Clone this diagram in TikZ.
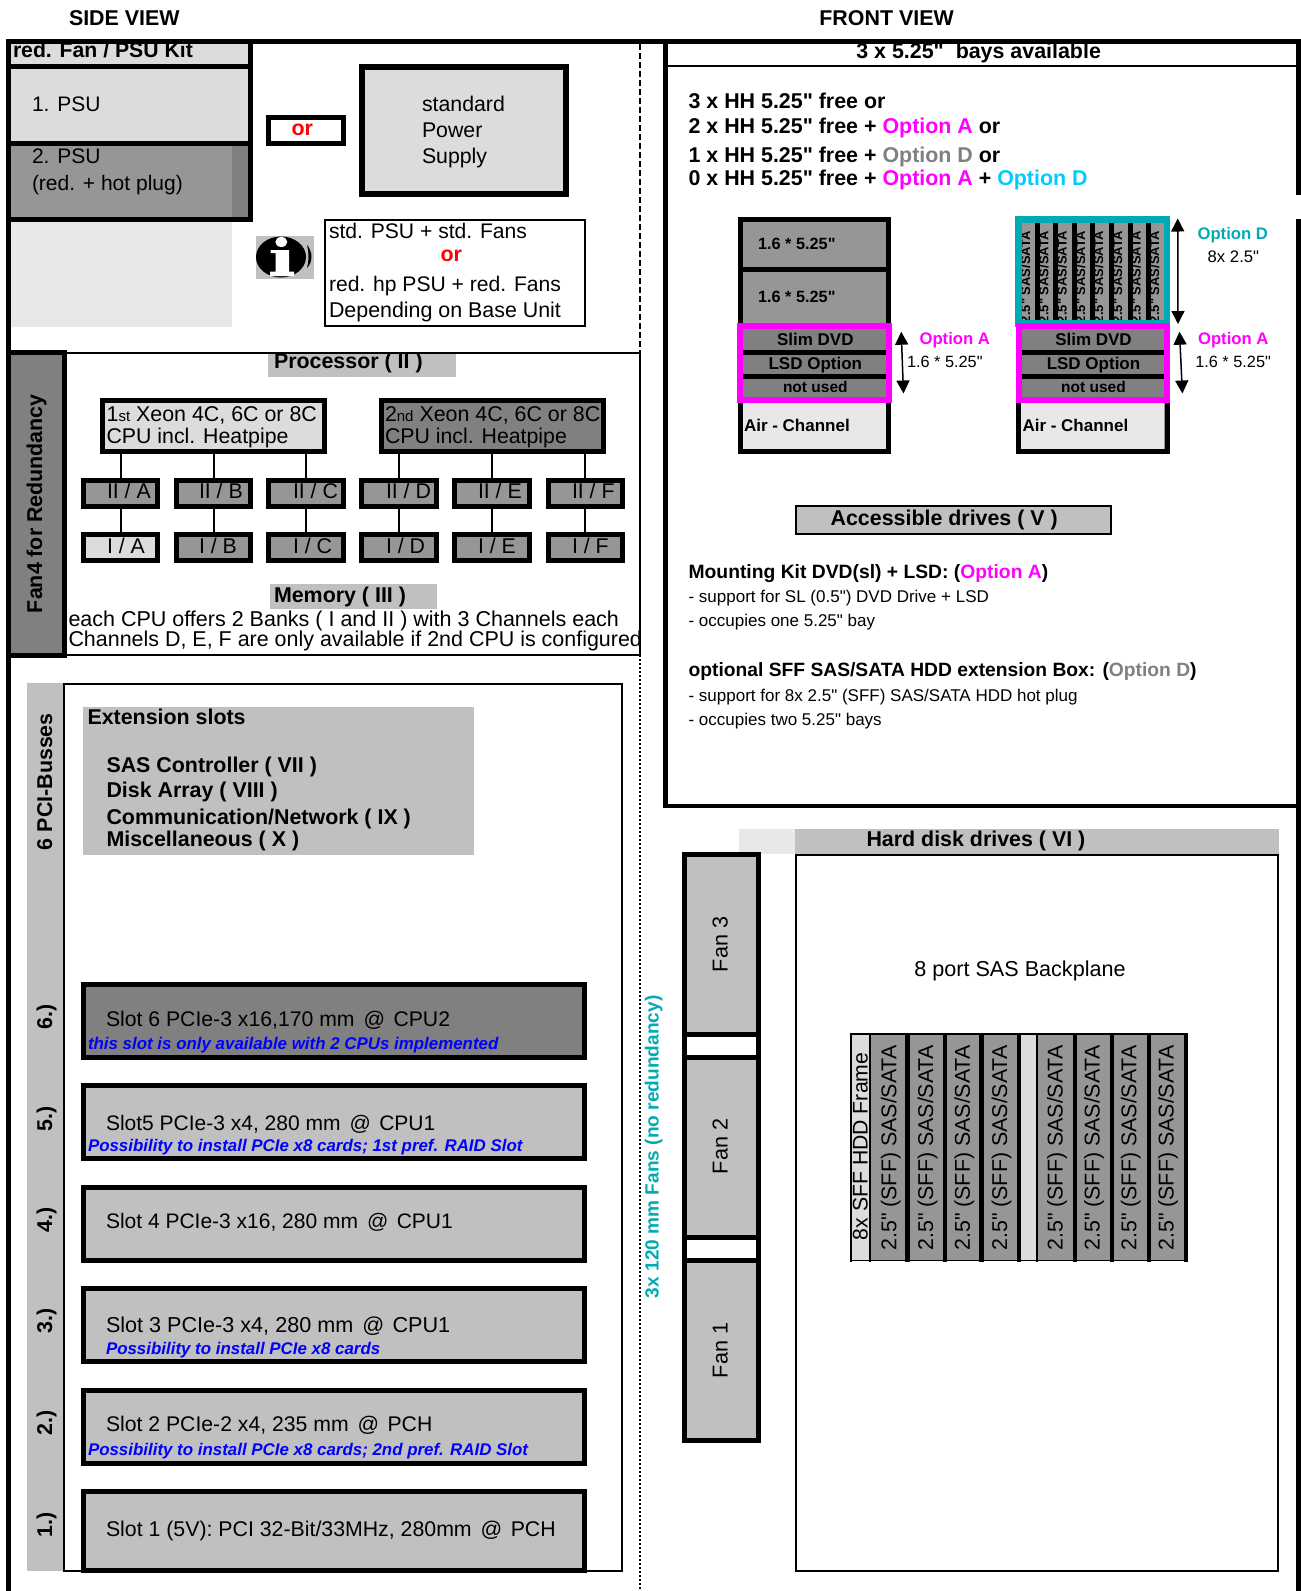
\documentclass[tikz,border=0pt]{standalone}
\usepackage{fontspec}
\newfontfamily\lsans{Liberation Sans}
\usetikzlibrary{arrows.meta}
\definecolor{lgray}{HTML}{DCDCDC}
\definecolor{pale}{HTML}{E8E8E8}
\definecolor{mgray}{HTML}{C0C0C0}
\definecolor{dgray}{HTML}{969696}
\definecolor{xgray}{HTML}{808080}
\definecolor{air}{HTML}{E8E8E8}
\definecolor{teal2}{HTML}{00ABB3}
\definecolor{magen}{HTML}{FF00FF}
\definecolor{cyan2}{HTML}{00CCFF}
\definecolor{blue2}{HTML}{0000FF}
\newcommand\fz[1]{\lsans\fontsize{#1}{#1}\selectfont}
\newcommand\atgap{\hspace{9pt}@\hspace{8.4pt}}
% \bx{name}{x1}{y1}{x2}{y2}{style}
\newcommand\bx[6]{\node (#1) [bxs,#6,minimum width={(#4-(#2))*1pt},minimum height={(#5-(#3))*1pt}] at ({(#2+#4)/2},{(#3+#5)/2}) {};}
\tikzset{
  bxs/.style={draw=black,inner sep=0pt,outer sep=0pt,rectangle},
  heavy/.style={line width=5pt},
  thin2/.style={line width=2pt},
  flat/.style={draw=none},
  txt/.style={inner sep=0pt,outer sep=0pt,anchor=base west},
  rtxt/.style={inner sep=0pt,outer sep=0pt,anchor=base west,rotate=90},
  ctxt/.style={inner sep=0pt,outer sep=0pt,anchor=base},
  reg/.style={font=\fz{21.3}},
  bold/.style={font=\fz{21.4}\bfseries},
  sbold/.style={font=\fz{17}\bfseries},
  wire/.style={line width=2pt},
  frameline/.style={line width=5pt},
  dimarrow/.style={line width=1.5pt,{Triangle[length=13pt,width=13pt]}-{Triangle[length=13pt,width=13pt]}},
  note/.style={font=\fz{16.9}\bfseries\itshape,text=blue2},
}
\begin{document}
\begin{tikzpicture}[x=1pt,y=-1pt]
\useasboundingbox (0,0) rectangle (1301,1591);
% ---------- titles
\node (sideview) [txt,bold] at (69,25) {SIDE VIEW};
\node (frontview) [txt,bold] at (819.4,25) {FRONT VIEW};
% ---------- PSU kit
\bx{kithead}{8.5}{41.7}{250.5}{66.7}{heavy,fill=lgray}
\bx{psuone}{8.5}{66.7}{250.5}{143.3}{heavy,fill=lgray}
\bx{psutwo}{8.5}{143.3}{250.5}{219.5}{heavy,fill=dgray}
\bx{psusliver}{232}{145.8}{248}{217}{flat,fill=xgray}
\bx{palerect}{8}{222}{232}{327}{flat,fill=pale}
\node (kittxt) [txt,font=\fz{21.2}\bfseries] at (13,57.5) {red. Fan / PSU Kit};
\node (psuonetxt) [txt,font=\fz{21}] at (32,111.7) {1. PSU};
\node (psutwotxt) [txt,font=\fz{21}] at (32,163) {2. PSU};
\node (psutwotxtb) [txt,font=\fz{21}] at (32,190) {(red. + hot plug)};
\bx{orbox}{268.5}{117.5}{343.5}{143.5}{heavy,fill=white}
\node (ortxt) [txt,bold,text=red] at (291.6,135.7) {or};
\bx{stdbox}{362}{67}{566}{194}{line width=5.5pt,fill=lgray}
\node (stda) [txt,reg] at (422,111.7) {standard};
\node (stdb) [txt,reg] at (422,137.7) {Power};
\node (stdc) [txt,reg] at (422,163.3) {Supply};
% info icon
\bx{icongray}{256}{236}{314}{279}{flat,fill=mgray}
\fill[black] (281,257) ellipse [x radius=25,y radius=20.5];
\fill[white] (281.3,242) ellipse [x radius=6,y radius=5];
\fill[white] (270.5,250) -- (289,250) -- (289,271.5) -- (294,271.5) -- (294,276) -- (270,276) -- (270,271.5) -- (275.5,271.5) -- (275.5,253) -- (270.5,253) -- cycle;
\fill[black] (307,245) .. controls (313,252) and (313,262) .. (307,268) .. controls (309,260) and (309,252) .. (307,245) -- cycle;
\bx{infobox}{324.5}{220}{585}{326}{thin2,fill=white}
\node (infoa) [txt,font=\fz{21.1}] at (329,238.7) {std. PSU + std. Fans};
\node (infob) [txt,bold,text=red] at (440.5,261.7) {or};
\node (infoc) [txt,font=\fz{21.1}] at (329,291.7) {red. hp PSU + red. Fans};
\node (infod) [txt,font=\fz{21.4}] at (329,317.7) {Depending on Base Unit};
% ---------- processor section
\bx{prochead}{268}{354}{455.6}{376.7}{flat,fill=mgray}
\node (proctxt) [txt,bold] at (274,368.3) {Processor ( II )};
\draw[wire] (64,353) -- (640,353);
\draw[wire] (64,655) -- (640,655);
\draw[wire] (640,353) -- (640,655);
\draw[line width=2pt,dash pattern=on 6pt off 3pt] (640,44) -- (640,353);
\draw[line width=2pt,dash pattern=on 2pt off 2pt] (640,655) -- (640,1591);
\bx{fanfour}{8.5}{352.5}{64.5}{655.4}{heavy,fill=xgray}
\node (fanfourtxt) [rtxt,bold] at (42,613) {Fan4 for Redundancy};
\bx{cpuone}{102}{400.8}{324.5}{451.5}{heavy,fill=lgray}
\bx{cputwo}{381}{400.8}{603}{451.5}{heavy,fill=xgray}
\node (cpuonea) [txt,font=\fz{21.4}] at (106.6,421.7) {1{\fz{15}st} Xeon 4C, 6C or 8C};
\node (cpuoneb) [txt,reg] at (106.6,443.3) {CPU incl. Heatpipe};
\node (cputwoa) [txt,font=\fz{21.4}] at (385,421.7) {2{\fz{15}nd} Xeon 4C, 6C or 8C};
\node (cputwob) [txt,reg] at (385,443.3) {CPU incl. Heatpipe};
\foreach \n/\xa/\xb/\tx/\fc in {A/83.5/157.5/107/lgray,B/176.5/250.5/199/dgray,C/268.5/343.5/293/dgray,D/361.5/436.5/386/dgray,E/454.5/529/478/dgray,F/548/622/572/dgray}{
  \bx{memII\n}{\xa}{480.7}{\xb}{506.3}{heavy,fill=dgray}
  \bx{memI\n}{\xa}{534.7}{\xb}{560.3}{heavy,fill=\fc}
  \node (txII\n) [txt,reg] at (\tx,498) {II / \n};
  \node (txI\n) [txt,reg] at (\tx,553) {I / \n};
  \draw[wire] (memII\n.south) -- (memI\n.north);
}
\draw[wire] (memIIA.north) -- (memIIA.north |- cpuone.south);
\draw[wire] (memIIB.north) -- (memIIB.north |- cpuone.south);
\draw[wire] (memIIC.north) -- (memIIC.north |- cpuone.south);
\draw[wire] (memIID.north) -- (memIID.north |- cputwo.south);
\draw[wire] (memIIE.north) -- (memIIE.north |- cputwo.south);
\draw[wire] (memIIF.north) -- (memIIF.north |- cputwo.south);
\bx{memhead}{269.7}{584}{437.3}{608.7}{flat,fill=mgray}
\node (memtxt) [txt,bold] at (274,602.3) {Memory ( III )};
\node (memlinea) [txt,font=\fz{21.5}] at (68.5,626.7) {each CPU offers 2 Banks ( I and II ) with 3 Channels each};
\node (memlineb) [txt,font=\fz{21.45}] at (68.5,646.7) {Channels D, E, F are only available if 2nd CPU is configured};
% ---------- slots
\bx{strip}{27.4}{683}{63}{1571}{flat,fill=mgray}
\bx{panel}{64}{684}{622}{1571}{thin2}
\node (busses) [rtxt,bold] at (52,850) {6 PCI-Busses};
\bx{exthead}{83}{707.3}{474}{854.7}{flat,fill=mgray}
\node (exta) [txt,bold] at (87.5,724.3) {Extension slots};
\node (extb) [txt,bold] at (106.5,772.3) {SAS Controller ( VII )};
\node (extc) [txt,bold] at (106.5,797.7) {Disk Array ( VIII )};
\node (extd) [txt,bold] at (106.5,824) {Communication/Network ( IX )};
\node (exte) [txt,bold] at (106.5,846) {Miscellaneous ( X )};
\bx{slotsix}{83.3}{984.4}{584.5}{1057.6}{heavy,fill=xgray}
\bx{slotfive}{83.3}{1085.4}{584.5}{1158.6}{heavy,fill=mgray}
\bx{slotfour}{83.3}{1187.4}{584.5}{1260.3}{heavy,fill=mgray}
\bx{slotthree}{83.3}{1288.4}{584.5}{1361.6}{heavy,fill=mgray}
\bx{slottwo}{83.3}{1390.4}{584.5}{1463.6}{heavy,fill=mgray}
\bx{slotone}{83.3}{1491.4}{584.5}{1570.3}{heavy,fill=mgray}
\node (snsix) [rtxt,bold] at (52,1029) {6.)};
\node (snfive) [rtxt,bold] at (52,1131.5) {5.)};
\node (snfour) [rtxt,bold] at (52,1232.5) {4.)};
\node (snthree) [rtxt,bold] at (52,1333.5) {3.)};
\node (sntwo) [rtxt,bold] at (52,1435) {2.)};
\node (snone) [rtxt,bold] at (52,1537.5) {1.)};
\node (stsix) [txt,font=\fz{21.2}] at (106,1026) {Slot 6 PCIe-3 x16,170 mm\atgap CPU2};
\node (ntsix) [txt,note] at (88,1049.3) {this slot is only available with 2 CPUs implemented};
\node (stfive) [txt,font=\fz{21}] at (106,1130) {Slot5 PCIe-3 x4, 280 mm\atgap CPU1};
\node (ntfive) [txt,note] at (88,1151.3) {Possibility to install PCIe x8 cards; 1st pref. RAID Slot};
\node (stfour) [txt,font=\fz{21}] at (106,1228.7) {Slot 4 PCIe-3 x16, 280 mm\atgap CPU1};
\node (stthree) [txt,font=\fz{21.6}] at (106,1332.7) {Slot 3 PCIe-3 x4, 280 mm\atgap CPU1};
\node (ntthree) [txt,note] at (106,1354.3) {Possibility to install PCIe x8 cards};
\node (sttwo) [txt,font=\fz{21.2}] at (106,1431.7) {Slot 2 PCIe-2 x4, 235 mm\atgap PCH};
\node (nttwo) [txt,note] at (88,1455.3) {Possibility to install PCIe x8 cards; 2nd pref. RAID Slot};
\node (stone) [txt,reg] at (106,1536.7) {Slot 1 (5V): PCI 32-Bit/33MHz, 280mm\atgap PCH};
% ---------- front view, upper box
\draw[wire] (668,66) -- (1296,66);
\node (bays) [txt,bold] at (856.4,58.3) {3 x 5.25" \ bays available};
\node (fa) [txt,font=\fz{21.4}\bfseries] at (688.6,108.5) {3 x HH 5.25" free or};
\node (fb) [txt,font=\fz{21.4}\bfseries] at (688.6,133.3) {2 x HH 5.25" free + \textcolor{magen}{Option A} or};
\node (fc) [txt,font=\fz{21.4}\bfseries] at (688.6,162.7) {1 x HH 5.25" free + \textcolor{xgray}{Option D} or};
\node (fd) [txt,font=\fz{21.4}\bfseries] at (688.6,185) {0 x HH 5.25" free + \textcolor{magen}{Option A} + \textcolor{cyan2}{Option D}};
% left stack
\bx{lstack}{740.5}{219.3}{888.5}{451.5}{heavy,fill=dgray}
\draw[line width=5pt] (lstack.west |- 0,269.5) -- (lstack.east |- 0,269.5);
\bx{lair}{743}{403}{886}{448.8}{flat,fill=air}
\bx{lrows}{743.4}{329}{885.9}{397.3}{flat,fill=xgray}
\bx{lbara}{743.4}{350}{885.9}{355}{flat,fill=black}
\bx{lbarb}{743.4}{374}{885.9}{379}{flat,fill=black}
\bx{lmag}{740}{326.3}{889}{400.3}{line width=6pt,draw=magen}
\node (lba) [txt,font=\fz{16.3}\bfseries] at (758,249) {1.6 * 5.25"};
\node (lbb) [txt,font=\fz{16.3}\bfseries] at (758,302.7) {1.6 * 5.25"};
\node (lslim) [ctxt,sbold] at (815.3,345) {Slim DVD};
\node (llsd) [ctxt,sbold] at (815.3,369) {LSD Option};
\node (lnot) [ctxt,font=\fz{15.5}\bfseries] at (815.3,392) {not used};
\node (lairt) [txt,sbold] at (744,431) {Air - Channel};
\coordinate (laT) at (901.2,331.7);
\coordinate (laB) at (903.5,393.5);
\draw[dimarrow] (laT) -- (laB);
\node (loa) [txt,font=\fz{16.7}\bfseries,text=magen] at (919.5,344.3) {Option A};
\node (lob) [txt,font=\fz{16.3}] at (907,367.7) {1.6 * 5.25"};
% right stack
\bx{rstack}{1018.8}{219.3}{1167}{451.5}{heavy,fill=dgray}
\bx{rair}{1021}{403}{1164}{448.8}{flat,fill=air}
\foreach \bxa/\bxb in {1035/1040,1053/1058,1072/1077,1090/1095,1109/1114,1128/1133,1146/1151}{
  \bx{rbar\bxa}{\bxa}{222.7}{\bxb}{324}{flat,fill=black}
}
\foreach \bl in {1030,1048.3,1066.5,1085,1103,1122,1140.7,1159}{
  \node (rd\bl) [rtxt,font=\fz{13}\bfseries] at (\bl,323) {2.5" SAS/SATA};
}
\bx{rteal}{1018.5}{219.3}{1167}{323.3}{line width=6.5pt,draw=teal2}
\bx{rrows}{1021.7}{329}{1164}{397.3}{flat,fill=xgray}
\bx{rbara}{1021.7}{350}{1164}{355}{flat,fill=black}
\bx{rbarb}{1021.7}{374}{1164}{379}{flat,fill=black}
\bx{rmag}{1018.5}{326.3}{1167.3}{400.3}{line width=6pt,draw=magen}
\node (rslim) [ctxt,sbold] at (1093.5,345) {Slim DVD};
\node (rlsd) [ctxt,sbold] at (1093.5,369) {LSD Option};
\node (rnot) [ctxt,font=\fz{15.5}\bfseries] at (1093.5,392) {not used};
\node (rairt) [txt,sbold] at (1022.5,431) {Air - Channel};
\coordinate (rdT) at (1177.7,218.5);
\coordinate (rdB) at (1178,324);
\draw[dimarrow] (rdT) -- (rdB);
\coordinate (raT) at (1179.5,331.7);
\coordinate (raB) at (1182.4,393.5);
\draw[dimarrow] (raT) -- (raB);
\node (rod) [txt,font=\fz{16.7}\bfseries,text=teal2] at (1197.5,239.3) {Option D};
\node (rodb) [txt,font=\fz{16.7}] at (1207.7,262.7) {8x 2.5"};
\node (roa) [txt,font=\fz{16.7}\bfseries,text=magen] at (1198,344.3) {Option A};
\node (rob) [txt,font=\fz{16.3}] at (1195.3,367.7) {1.6 * 5.25"};
% accessible drives
\bx{acchead}{796.3}{506}{1110.8}{533.5}{thin2,fill=mgray}
\node (acctxt) [txt,bold] at (830.6,525.7) {Accessible drives ( V )};
\node (ma) [txt,font=\fz{19.3}\bfseries] at (688.6,578.2) {Mounting Kit DVD(sl) + LSD: (\textcolor{magen}{Option A})};
\node (mb) [txt,font=\fz{17}] at (688.6,602.2) {- support for SL (0.5") DVD Drive + LSD};
\node (mc) [txt,font=\fz{17}] at (688.6,626.2) {- occupies one 5.25" bay};
\node (md) [txt,font=\fz{19.25}\bfseries] at (688.6,676) {optional SFF SAS/SATA HDD extension Box: (\textcolor{xgray}{Option D})};
\node (me) [txt,font=\fz{17}] at (688.6,701) {- support for 8x 2.5" (SFF) SAS/SATA HDD hot plug};
\node (mf) [txt,font=\fz{17}] at (688.6,725) {- occupies two 5.25" bays};
% ---------- hard disks
\bx{hddpale}{739}{829}{795}{854}{flat,fill=pale}
\bx{hddhead}{795}{829}{1279}{854}{flat,fill=mgray}
\node (hddtxt) [txt,bold] at (866.5,846.7) {Hard disk drives ( VI )};
\bx{hddbox}{796}{855}{1278.3}{1571}{thin2}
\node (backplane) [txt,font=\fz{21.6}] at (914.3,976) {8 port SAS Backplane};
\bx{fanthree}{684.8}{854.7}{758}{1034.7}{heavy,fill=mgray}
\bx{fantwo}{684.8}{1057.3}{758}{1237.3}{heavy,fill=mgray}
\bx{fanone}{684.8}{1260.7}{758}{1440.3}{heavy,fill=mgray}
\draw[heavy] (fanthree.south west) -- (fantwo.north west);
\draw[heavy] (fanthree.south east) -- (fantwo.north east);
\draw[heavy] (fantwo.south west) -- (fanone.north west);
\draw[heavy] (fantwo.south east) -- (fanone.north east);
\node (fanthreetxt) [ctxt,font=\fz{21.6},rotate=90] at (727.5,944.5) {Fan 3};
\node (fantwotxt) [ctxt,font=\fz{21.6},rotate=90] at (727.5,1146.5) {Fan 2};
\node (fanonetxt) [ctxt,font=\fz{21.6},rotate=90] at (727.5,1350.5) {Fan 1};
\node (fanlabel) [rtxt,font=\fz{19.1}\bfseries,text=teal2] at (658.5,1298) {3x 120 mm Fans (no redundancy)};
% HDD frame
\bx{framecell}{851}{1034}{869.3}{1260}{flat,fill=lgray}
\bx{gapcell}{1020.6}{1034}{1036}{1260}{flat,fill=lgray}
\foreach \n/\a/\b/\bl in {a/870.5/905.3/896.3,b/909.8/942.5/933.1,c/946.6/979.3/969.9,d/983.8/1016.5/1007.1,e/1037.8/1073/1062.7,f/1077/1109.7/1099.5,g/1113.8/1146.5/1136.3,h/1151/1183.7/1173.5}{
  \bx{hd\n}{\a}{1034}{\b}{1260}{flat,fill=dgray}
  \node (hdt\n) [rtxt,font=\fz{21.4}] at (\bl,1250.7) {2.5" (SFF) SAS/SATA};
}
\foreach \a/\b in {905.3/909.8,942.5/946.6,979.3/983.8,1016.5/1020.6,1073/1077,1109.7/1113.8,1146.5/1151,1183.7/1188.2}{
  \bx{hb\a}{\a}{1033.3}{\b}{1261.7}{flat,fill=black}
}
\bx{sepa}{869.3}{1033.3}{870.7}{1261.7}{flat,fill=black}
\bx{sepb}{1036}{1033.3}{1037.8}{1261.7}{flat,fill=black}
\bx{sepc}{850.3}{1033.3}{851.5}{1261.7}{flat,fill=black}
\bx{hdtop}{850.3}{1033.3}{1188.2}{1035}{flat,fill=black}
\bx{hdbot}{850.3}{1259.6}{1188.2}{1261.2}{flat,fill=black}
\node (frametxt) [rtxt,font=\fz{21.2}] at (867.7,1240) {8x SFF HDD Frame};
% ---------- frame
\draw[frameline] (8.5,41.7) -- (8.5,1591);
\draw[frameline] (665.8,41.7) -- (665.8,808);
\draw[line width=4.5pt] (663.3,806) -- (1298.5,806);
\draw[frameline] (1298.5,41.7) -- (1298.5,195);
\draw[frameline] (1298.5,219) -- (1298.5,1591);
\draw[frameline] (6,41.7) -- (1301,41.7);
\end{tikzpicture}
\end{document}
